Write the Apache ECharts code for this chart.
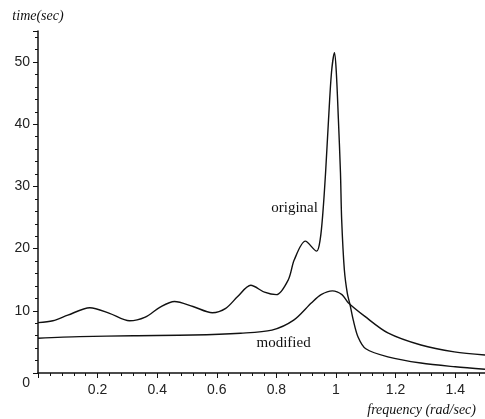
<!DOCTYPE html>
<html>
<head>
<meta charset="utf-8">
<script src="https://cdn.jsdelivr.net/npm/echarts@6/dist/echarts.min.js"></script>
<style>
  html, body { margin: 0; padding: 0; background: #fff; }
  #chart { width: 485px; height: 419px; }
</style>
</head>
<body>
<div id="chart"></div>
<script>
// frequency (rad/sec) -> time (sec)
const originalFreq = [0, 0.05, 0.1, 0.174, 0.24, 0.307, 0.36, 0.41, 0.458, 0.52, 0.585, 0.63, 0.67, 0.714, 0.76, 0.8, 0.84, 0.86, 0.897, 0.935, 0.947, 0.956, 0.965, 0.975, 0.985, 0.995, 1.001, 1.008, 1.015, 1.019, 1.028, 1.038, 1.047, 1.058, 1.074, 1.1, 1.174, 1.285, 1.4, 1.5]
const originalTime = [8.1, 8.4, 9.3, 10.5, 9.6, 8.4, 9.0, 10.6, 11.5, 10.7, 9.7, 10.4, 12.3, 14.1, 13.0, 12.6, 15.0, 18.2, 21.2, 19.6, 21.5, 25.8, 32.2, 40.8, 48.4, 51.5, 48.4, 40.8, 32.2, 24.7, 16.6, 12.8, 11.0, 8.5, 5.8, 3.9, 2.6, 1.6, 1.0, 0.6]

const modifiedFreq = [0, 0.14, 0.32, 0.52, 0.68, 0.785, 0.858, 0.918, 0.95, 0.988, 1.02, 1.041, 1.097, 1.174, 1.285, 1.397, 1.5]
const modifiedTime = [5.6, 5.85, 6.0, 6.1, 6.4, 6.9, 8.5, 11.3, 12.6, 13.2, 12.6, 11.3, 9.1, 6.45, 4.5, 3.4, 2.9]

const seriesNames = ['original', 'modified']
const xTickLabels = { 0.2: '0.2', 0.4: '0.4', 0.6: '0.6', 0.8: '0.8', 1: '1', 1.2: '1.2', 1.4: '1.4' }

const zip = (xs, ys) => xs.map((x, i) => [x, ys[i]])

const chart = echarts.init(document.getElementById('chart'))

const tickFont = { color: '#222', fontFamily: 'Liberation Sans', fontSize: 14 }
const nameFont = { color: '#111', fontFamily: 'Liberation Serif', fontStyle: 'italic', fontSize: 14 }
const curveLabel = { show: true, color: '#111', fontFamily: 'Liberation Serif', fontSize: 15 }

chart.setOption({
  animation: false,
  backgroundColor: '#fff',
  grid: { left: 38, right: -3, top: 31, bottom: 46 },
  xAxis: {
    type: 'value',
    min: 0,
    max: 1.5,
    interval: 0.2,
    name: 'frequency (rad/sec)',
    nameLocation: 'end',
    nameGap: -9,
    nameTextStyle: { ...nameFont, align: 'right', verticalAlign: 'top', padding: [30, 0, 0, 0] },
    axisLine: { lineStyle: { color: '#111', width: 1.5 } },
    axisTick: { length: 5, lineStyle: { color: '#111' } },
    minorTick: { show: true, splitNumber: 5, length: 3, lineStyle: { color: '#111' } },
    splitLine: { show: false },
    axisLabel: {
      ...tickFont,
      margin: 10,
      showMinLabel: false,
      showMaxLabel: false,
      formatter: (v) => xTickLabels[Math.round(v * 10) / 10] || '',
    },
  },
  yAxis: {
    type: 'value',
    min: 0,
    max: 55,
    interval: 10,
    name: 'time(sec)',
    nameLocation: 'end',
    nameGap: 8,
    nameTextStyle: { ...nameFont },
    axisLine: { lineStyle: { color: '#111', width: 1.5 } },
    axisTick: { length: 5, lineStyle: { color: '#111' } },
    minorTick: { show: true, splitNumber: 5, length: 3, lineStyle: { color: '#111' } },
    splitLine: { show: false },
    axisLabel: {
      ...tickFont,
      margin: 8,
      showMaxLabel: false,
      formatter: (v) => (v === 0 ? '{o|0}' : String(v)),
      rich: { o: { ...tickFont, padding: [20, 0, 0, 0] } },
    },
  },
  series: [
    {
      name: seriesNames[0],
      type: 'line',
      data: zip(originalFreq, originalTime),
      showSymbol: false,
      smooth: 0.3,
      lineStyle: { color: '#111', width: 1.4 },
      markPoint: {
        symbolSize: 0,
        silent: true,
        label: { ...curveLabel, position: 'inside' },
        data: [{ coord: [0.861, 26.5], value: seriesNames[0] }],
      },
    },
    {
      name: seriesNames[1],
      type: 'line',
      data: zip(modifiedFreq, modifiedTime),
      showSymbol: false,
      smooth: 0.3,
      lineStyle: { color: '#111', width: 1.4 },
      markPoint: {
        symbolSize: 0,
        silent: true,
        label: { ...curveLabel, position: 'inside' },
        data: [{ coord: [0.824, 4.8], value: seriesNames[1] }],
      },
    },
  ],
})
</script>
</body>
</html>
